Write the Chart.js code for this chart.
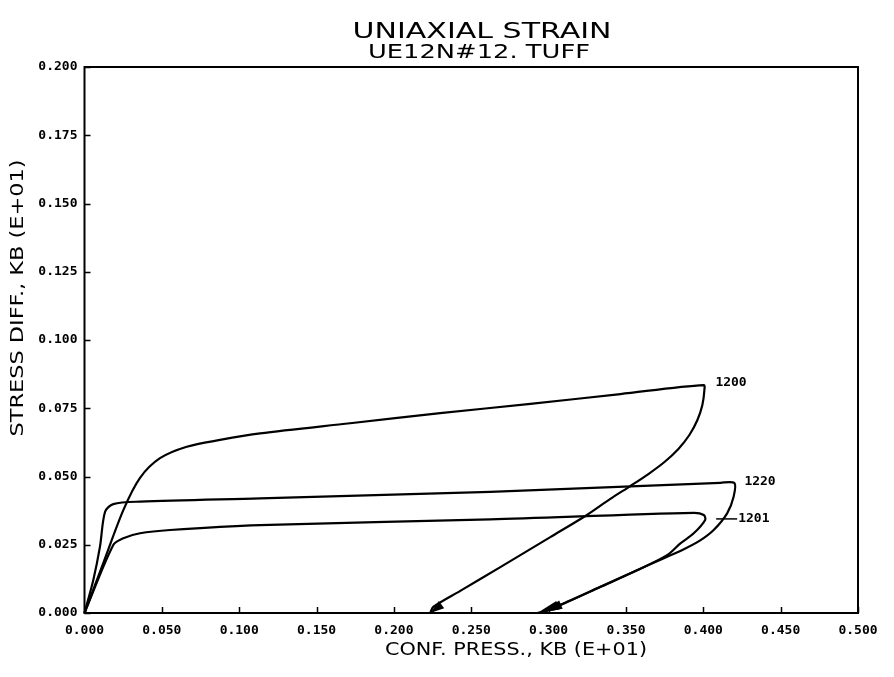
<!DOCTYPE html>
<html>
<head>
<meta charset="utf-8">
<title>UNIAXIAL STRAIN - UE12N#12. TUFF</title>
<script src="https://cdn.jsdelivr.net/npm/chart.js@4/dist/chart.umd.min.js"></script>
<style>
  html, body { margin: 0; padding: 0; background: #fff; }
  #wrap { width: 894px; height: 677px; }
</style>
</head>
<body>
<div id="wrap"><canvas id="chart" width="894" height="677"></canvas></div>
<script>
// Tick values (kb, scaled by E+01)
const xTickValues = [0, 0.05, 0.1, 0.15, 0.2, 0.25, 0.3, 0.35, 0.4, 0.45, 0.5];
const yTickValues = [0, 0.025, 0.05, 0.075, 0.1, 0.125, 0.15, 0.175, 0.2];

// Test identifiers for the three load/unload paths
const testNames = ['1200', '1220', '1201'];

// Test 1200: confining pressure and stress difference along the path
const press1200 = [0, 0.0126, 0.0251, 0.0359, 0.0488, 0.0661, 0.0876, 0.1135, 0.1717, 0.2299, 0.2882, 0.3464, 0.4003,
                   0.4007, 0.3994, 0.3962, 0.3910, 0.3839, 0.3749, 0.3645, 0.3528, 0.3399, 0.3248, 0.3011, 0.2688, 0.2429, 0.2254, 0.2235];
const stress1200 = [0, 0.0190, 0.0377, 0.0495, 0.0567, 0.0609, 0.0634, 0.0658, 0.0695, 0.0732, 0.0766, 0.0802, 0.0835,
                    0.0817, 0.0762, 0.0707, 0.0652, 0.0601, 0.0553, 0.0509, 0.0465, 0.0418, 0.0359, 0.0278, 0.0168, 0.0081, 0.0022, 0];

// Test 1220
const press1220 = [0, 0.0057, 0.0100, 0.0133, 0.0186, 0.0359, 0.1135, 0.2623, 0.4110, 0.4201,
                   0.4196, 0.4154, 0.4067, 0.3975, 0.3865, 0.3742, 0.3550, 0.3334, 0.3119, 0.2968, 0.2927];
const stress1220 = [0, 0.0121, 0.0243, 0.0371, 0.0399, 0.0408, 0.0420, 0.0444, 0.0477, 0.0476,
                    0.0426, 0.0365, 0.0304, 0.0264, 0.0231, 0.0200, 0.0151, 0.0096, 0.0041, 0.0005, 0];

// Test 1201
const press1201 = [0, 0.0186, 0.0251, 0.0359, 0.0553, 0.1135, 0.2623, 0.3938, 0.4003, 0.4012,
                   0.3938, 0.3852, 0.3766, 0.3548, 0.3334, 0.3121, 0.2979, 0.2948];
const stress1201 = [0, 0.0249, 0.0274, 0.0292, 0.0304, 0.0322, 0.0343, 0.0367, 0.0359, 0.0341,
                    0.0292, 0.0255, 0.0212, 0.0150, 0.0095, 0.0040, 0.0007, 0];

const titleLines = ['UNIAXIAL STRAIN', 'UE12N#12. TUFF'];
const xTitle = 'CONF. PRESS., KB (E+01)';
const yTitle = 'STRESS DIFF., KB (E+01)';

// Label placement next to each path's turning point, and arrowhead sizes
const tagStyle = {
  '1200': { dx: 11, dy: -7, leader: 0, arrowLen: 14, arrowHalf: 4.5 },
  '1220': { dx: 10, dy: -1, leader: 0, arrowLen: 22, arrowHalf: 4.5 },
  '1201': { dx: 33, dy: -1, leader: 20, arrowLen: 22, arrowHalf: 4.5 }
};

const toPoints = (xs, ys) => xs.map((v, i) => ({ x: v, y: ys[i] }));
const seriesData = {
  '1200': toPoints(press1200, stress1200),
  '1220': toPoints(press1220, stress1220),
  '1201': toPoints(press1201, stress1201)
};

const MONO_BOLD = 'bold 13px "DejaVu Sans Mono", "Liberation Mono", monospace';
const SANS = '"DejaVu Sans", "Liberation Sans", sans-serif';

// Draws text centred at (cx, cy), stretched horizontally to a given width
function stretchedText(ctx, text, cx, cy, width, rotate) {
  const w = ctx.measureText(text).width;
  ctx.save();
  ctx.translate(cx, cy);
  if (rotate) ctx.rotate(rotate);
  ctx.scale(width / w, 1);
  ctx.textAlign = 'center';
  ctx.textBaseline = 'middle';
  ctx.fillText(text, 0, 0);
  ctx.restore();
}

const plotterDecor = {
  id: 'plotterDecor',
  afterDraw(chart) {
    const { ctx, chartArea: a } = chart;
    const xs = chart.scales.x, ys = chart.scales.y;
    ctx.save();
    ctx.strokeStyle = '#000';
    ctx.fillStyle = '#000';

    // Frame
    ctx.lineWidth = 2;
    ctx.strokeRect(a.left, a.top, a.right - a.left, a.bottom - a.top);

    // Inward tick marks
    ctx.lineWidth = 1.5;
    ctx.beginPath();
    xs.ticks.forEach(t => {
      const px = Math.round(xs.getPixelForValue(t.value)) + 0.5;
      ctx.moveTo(px, a.bottom);
      ctx.lineTo(px, a.bottom - 6);
    });
    ys.ticks.forEach(t => {
      const py = Math.round(ys.getPixelForValue(t.value)) + 0.5;
      ctx.moveTo(a.left, py);
      ctx.lineTo(a.left + 6, py);
    });
    ctx.stroke();

    // Arrowheads at the unloading ends, and test labels at the turning points
    chart.data.datasets.forEach((ds, di) => {
      const meta = chart.getDatasetMeta(di);
      const pts = meta.data;
      const st = tagStyle[ds.label];
      const tip = pts[pts.length - 1];
      const back = pts[pts.length - 3];
      const ang = Math.atan2(tip.y - back.y, tip.x - back.x);
      ctx.beginPath();
      ctx.moveTo(tip.x, tip.y);
      ctx.lineTo(tip.x - st.arrowLen * Math.cos(ang) + st.arrowHalf * Math.sin(ang),
                 tip.y - st.arrowLen * Math.sin(ang) - st.arrowHalf * Math.cos(ang));
      ctx.lineTo(tip.x - st.arrowLen * Math.cos(ang) - st.arrowHalf * Math.sin(ang),
                 tip.y - st.arrowLen * Math.sin(ang) + st.arrowHalf * Math.cos(ang));
      ctx.closePath();
      ctx.fill();

      // turning point = largest confining pressure
      let turn = pts[0], best = -Infinity;
      ds.data.forEach((d, i) => { if (d.x > best) { best = d.x; turn = pts[i]; } });
      const tx = turn.x + st.dx, ty = turn.y + st.dy;
      if (st.leader) {
        ctx.lineWidth = 1.5;
        ctx.beginPath();
        ctx.moveTo(tx - 2 - st.leader, ty);
        ctx.lineTo(tx - 1, ty);
        ctx.stroke();
      }
      ctx.font = MONO_BOLD;
      ctx.textAlign = 'left';
      ctx.textBaseline = 'middle';
      ctx.fillText(ds.label, tx, ty);
    });

    // Titles
    ctx.font = '21px ' + SANS;
    stretchedText(ctx, titleLines[0], 482, 33, 259);
    ctx.font = '19px ' + SANS;
    stretchedText(ctx, titleLines[1], 479, 53, 222);
    ctx.font = '18px ' + SANS;
    stretchedText(ctx, xTitle, 516, 650, 262);
    stretchedText(ctx, yTitle, 18, 298, 277, -Math.PI / 2);

    ctx.restore();
  }
};

const fmt = v => Number(v).toFixed(3);

new Chart(document.getElementById('chart'), {
  type: 'line',
  data: {
    datasets: testNames.map(name => ({
      label: name,
      data: seriesData[name],
      borderColor: '#000',
      borderWidth: 2.2,
      pointRadius: 0,
      tension: 0.3,
      fill: false,
      clip: false
    }))
  },
  options: {
    responsive: false,
    animation: false,
    devicePixelRatio: 1,
    layout: { padding: { top: 67, right: 36, left: 0, bottom: 0 } },
    plugins: {
      legend: { display: false },
      tooltip: { enabled: false },
      title: { display: false }
    },
    scales: {
      x: {
        type: 'linear',
        min: 0,
        max: 0.5,
        afterBuildTicks: s => { s.ticks = xTickValues.map(v => ({ value: v })); },
        afterFit: s => { s.height = 64; },
        grid: { display: false, drawTicks: false },
        border: { display: false },
        ticks: {
          autoSkip: false,
          maxRotation: 0,
          padding: 10,
          color: '#000',
          font: { family: '"DejaVu Sans Mono", "Liberation Mono", monospace', size: 13, weight: 'bold' },
          callback: fmt
        }
      },
      y: {
        type: 'linear',
        min: 0,
        max: 0.2,
        afterBuildTicks: s => { s.ticks = yTickValues.map(v => ({ value: v })); },
        afterFit: s => { s.width = 84.5; },
        grid: { display: false, drawTicks: false },
        border: { display: false },
        ticks: {
          autoSkip: false,
          padding: 7,
          color: '#000',
          font: { family: '"DejaVu Sans Mono", "Liberation Mono", monospace', size: 13, weight: 'bold' },
          callback: fmt
        }
      }
    }
  },
  plugins: [plotterDecor]
});
</script>
</body>
</html>
